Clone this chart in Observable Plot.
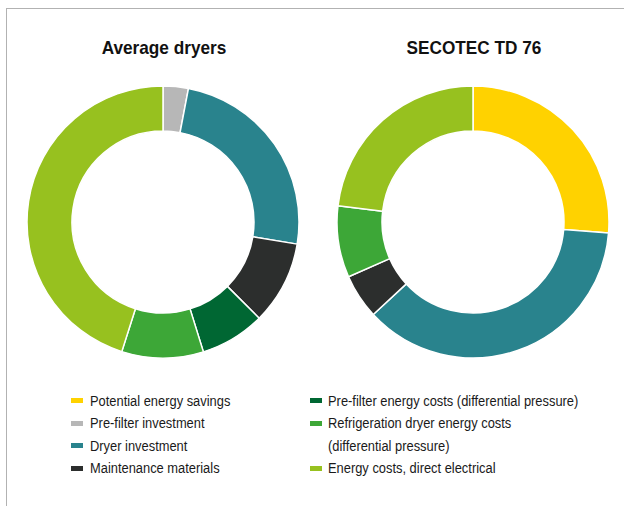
<!DOCTYPE html>
<html>
<head>
<meta charset="utf-8">
<script src="https://cdn.jsdelivr.net/npm/d3@7"></script>
<script src="https://cdn.jsdelivr.net/npm/@observablehq/plot@0.6"></script>
<style>
  html, body { margin: 0; padding: 0; background: #fff; }
  #wrap { position: relative; width: 624px; height: 506px; overflow: hidden; font-family: "Liberation Sans", Arial, Helvetica, sans-serif; color: #1a1a1a; }
  .frame { position: absolute; left: 5.5px; top: 7.5px; width: 700px; height: 600px; border-left: 1.6px solid #b2b2b2; border-top: 1.6px solid #b2b2b2; }
  .title { position: absolute; width: 300px; text-align: center; font-weight: bold; font-size: 18.5px; line-height: 18.5px; white-space: nowrap; transform: scaleX(0.93); transform-origin: 50% 0; color: #111; }
  #chart { position: absolute; left: 0; top: 70px; }
  .lg-text { position: absolute; font-size: 14px; line-height: 22.5px; white-space: nowrap; transform: scaleX(0.92); transform-origin: 0 0; color: #1a1a1a; }
  .lg-sw { position: absolute; width: 12px; height: 5px; }
</style>
</head>
<body>
<div id="wrap">
  <div class="frame"></div>
  <div id="titles"></div>
  <div id="chart"></div>
  <div id="legend"></div>
</div>
<script>
// ---- data ----
const charts = ["Average dryers", "SECOTEC TD 76"];
const categories = [
  "Potential energy savings",
  "Pre-filter investment",
  "Dryer investment",
  "Maintenance materials",
  "Pre-filter energy costs (differential pressure)",
  "Refrigeration dryer energy costs (differential pressure)",
  "Energy costs, direct electrical"
];
const legendLabels = [
  "Potential energy savings",
  "Pre-filter investment",
  "Dryer investment",
  "Maintenance materials",
  "Pre-filter energy costs (differential pressure)",
  "Refrigeration dryer energy costs<br>(differential pressure)",
  "Energy costs, direct electrical"
];
const colors = ["#FFD200", "#B7B7B7", "#29838D", "#2C2E2D", "#006733", "#3DA737", "#97C11F"];
// shares in percent, same order as categories
const averageValues = [0, 3.0, 24.6, 9.9, 7.7, 9.7, 45.1];
const secotecValues = [26.3, 0, 36.8, 5.3, 0, 8.5, 23.1];

const rows = [];
[averageValues, secotecValues].forEach((vals, k) => {
  vals.forEach((v, j) => { if (v > 0) rows.push({chart: charts[k], category: categories[j], value: v}); });
});

// ---- custom donut mark ----
class Donut extends Plot.Mark {
  constructor(data, {x, fill, value, innerRadius = 90, outerRadius = 136, ...options} = {}) {
    super(data, {
      x: {value: x, scale: "x"},
      fill: {value: fill, scale: "color"},
      value: {value: value}
    }, options);
    this.innerRadius = innerRadius;
    this.outerRadius = outerRadius;
  }
  render(index, scales, values, dimensions) {
    const X = values.x, F = values.fill, V = values.value;
    const cy = dimensions.marginTop + (dimensions.height - dimensions.marginTop - dimensions.marginBottom) / 2;
    const g = d3.create("svg:g");
    const arc = d3.arc().innerRadius(this.innerRadius).outerRadius(this.outerRadius);
    for (const [cx, I] of d3.group(index, i => X[i])) {
      const pie = d3.pie().sort(null).value(i => V[i])(I);
      g.append("g").attr("transform", `translate(${cx},${cy})`)
        .selectAll("path").data(pie).join("path")
        .attr("d", arc)
        .attr("fill", d => F[d.data])
        .attr("stroke", "#fff")
        .attr("stroke-width", 1.5)
        .attr("stroke-linejoin", "round");
    }
    return g.node();
  }
}

const chart = Plot.plot({
  width: 624,
  height: 304,
  margin: 0,
  x: {type: "point", domain: charts, range: [163, 473], padding: 0, axis: null},
  color: {domain: categories, range: colors},
  marks: [
    new Donut(rows, {x: "chart", fill: "category", value: "value", innerRadius: 91, outerRadius: 136})
  ]
});
document.getElementById("chart").appendChild(chart);

// ---- titles ----
const xs = chart.scale("x");
const titles = document.getElementById("titles");
charts.forEach(c => {
  const d = document.createElement("div");
  d.className = "title";
  d.textContent = c;
  d.style.left = (xs.apply(c) + 1 - 150) + "px";
  d.style.top = "38.8px";
  titles.appendChild(d);
});

// ---- legend ----
const colorScale = chart.scale("color");
const legend = document.getElementById("legend");
const colSwatchX = [71, 309.5];
const colTextX = [90, 328.3];
const rowTop0 = 389.6, rowStep = 22.5;
const placement = [[0,0],[0,1],[0,2],[0,3],[1,0],[1,1],[1,3]];
categories.forEach((cat, j) => {
  const [col, row] = placement[j];
  const top = rowTop0 + row * rowStep;
  const sw = document.createElement("div");
  sw.className = "lg-sw";
  sw.style.left = colSwatchX[col] + "px";
  sw.style.top = (top + 8.6) + "px";
  sw.style.background = colorScale.apply(cat);
  legend.appendChild(sw);
  const t = document.createElement("div");
  t.className = "lg-text";
  t.style.left = colTextX[col] + "px";
  t.style.top = top + "px";
  t.innerHTML = legendLabels[j];
  legend.appendChild(t);
});
</script>
</body>
</html>
